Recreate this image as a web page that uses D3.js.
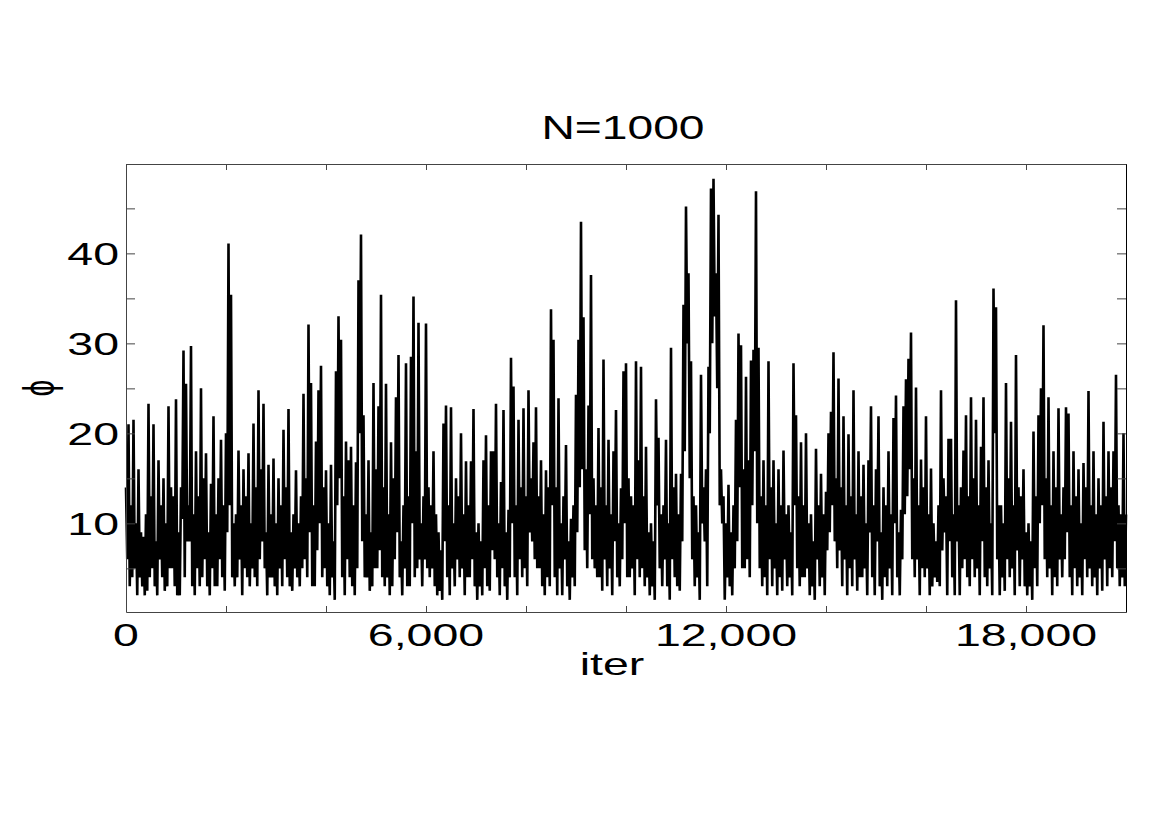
<!DOCTYPE html>
<html>
<head>
<meta charset="utf-8">
<script src="https://cdn.jsdelivr.net/npm/d3@7"></script>
<style>
  html, body { margin: 0; padding: 0; background: #fff; }
  svg { display: block; }
  text { font-family: "Liberation Sans", Arial, Helvetica, sans-serif; fill: #000; }
</style>
</head>
<body>
<script>
// ---- data ----
const titleText = "N=1000";
const xLabelText = "iter";
const yLabelText = "\u03D5";
const iterStep = 25;           // spacing of the sampled iterations
const xMax = 20000;
const xTickValues = [0,2000,4000,6000,8000,10000,12000,14000,16000,18000,20000];
const xTickLabels = [0, 6000, 12000, 18000];
const yTickValues = [5,10,15,20,25,30,35,40,45];
const yTickLabels = [10, 20, 30, 40];
const yDomain = [0.15, 49.93];

const phi = [
  14,6, 21,3, 12,4, 21.5,5, 10,2, 16,4, 9,3, 8.5,2, 11,2.5, 23.3,4,
  13,5, 21,3, 8,2, 17,6, 12,4, 15,2.5, 10,3, 23,5, 14,5, 13,3,
  23.8,2, 9,2, 14,10.5, 29.2,4, 25.5,8, 12,8, 29.7,3, 11,2, 18,5, 13,3,
  25,4, 15,6, 17.8,3, 9,2, 14.4,5, 21.9,3, 11,3, 15,6, 19.3,4, 12,2.5,
  20,9, 41.1,12, 35.4,4, 10,3, 11,4, 18.1,6, 12,2, 16,5, 13,4, 17.8,3,
  10,5, 21.1,4, 14,3, 24.8,6, 16,8, 23.3,5, 9,2, 16.5,4, 11,4, 17.2,3,
  10,2, 15,5, 12,3, 20.4,6, 14,4, 22.7,3, 9,2.5, 11,5, 15.9,4, 10,3,
  13,5, 24.4,6, 15,4, 32.1,9, 25.6,3, 12,3, 19.1,7, 24.8,10, 27.5,4, 14,5,
  15.9,3, 10,2, 16.5,4, 8,1.5, 26.9,12, 33,15, 30.4,4, 13,2, 19.1,6, 17,4,
  18.5,3, 12,2, 16.8,5, 37,20, 42.1,8, 22,4, 11,4, 17,2.5, 9,3, 25.6,5,
  16,5, 23,7, 35.4,4, 14,3, 25.5,4, 11,2, 19,3, 15,6, 24,9, 28.7,4,
  8,2, 12,5, 27.8,3, 13,3, 28.5,10, 35.2,4, 18,5, 32.3,6, 10,3, 13,6,
  32.2,5, 14,4, 12,5, 18,3, 11,2, 9,2.5, 7,1.5, 21.1,8, 23.1,4, 12,2,
  22.9,5, 10,3, 15,6, 13,4, 20,5, 11,2, 16.9,4, 12,4, 16.9,6, 22.7,3,
  9,1.5, 10,3, 8,2, 17,5, 19.8,3, 12,2.5, 18,7, 18,6, 23.3,4, 10,2,
  14.6,5, 22.6,3, 9,1.5, 11.5,4, 28.4,10, 25.2,4, 12,2, 21.5,6, 14,4, 22.8,5,
  13,3, 24.8,9, 15,8, 19,6, 22.9,5, 13,5, 17,3, 11,2, 15.9,4, 14,3,
  33.8,12, 30.4,4, 14,2, 23.9,5, 10,2, 13,6, 18.7,3, 8,1.5, 10.5,4, 12,3,
  24.3,9, 30.4,14, 43.5,16, 32.9,7, 16,5, 23.1,11, 37.6,6, 15,5, 12,4, 20.6,4,
  14,2.5, 28.2,6, 12,3, 19.3,5, 11,2, 18,8, 22.6,4, 10,3, 13.9,6, 26.9,10,
  27.8,4, 15,4, 13,5, 12,2, 28,6, 17,4, 27.4,5, 13,3, 18.5,4, 9,2,
  10,3, 8,1.5, 23.8,12, 19.5,5, 11,3, 12,6, 19.3,3, 10,1.5, 29.5,6, 14,4,
  15.5,3, 11,2.5, 15.5,8, 34.3,18, 45.2,30, 37.8,15, 28,6, 13,3, 12,4, 9,1.5,
  26.5,10, 14,8, 16,3, 27.4,20, 47.2,30, 48.3,33, 37.8,25, 44.3,12, 16,10, 13,1.5,
  10,4, 14.3,3, 9,2, 12,5, 21.5,8, 31.1,14, 29.8,5, 16,5, 26.3,6, 17,4,
  28.1,12, 29.3,18, 46.9,10, 29.5,5, 13,3, 17,4, 12,2, 28,6, 14,3, 17,5,
  10,2, 16,4, 12,2.5, 18.1,6, 11,3, 12,4, 9,2, 27.8,12, 22,5, 13,3,
  19,4, 12,4, 20,5, 10,2, 11,3, 8,1.5, 18.3,6, 12,3, 15.5,4, 11,2,
  13.5,7, 20,9, 22.4,12, 29,8, 15,5, 26.1,7, 14,3, 21.9,6, 12,2, 19.9,5,
  13,3, 24.8,6, 11,2.5, 18,4, 13,4, 16.5,5, 10,2, 17,9, 23,4, 12,2,
  16,8, 21.9,3, 9,1.5, 14,4, 12,3, 18,5, 11,2, 21.7,10, 24.2,4, 9,2,
  11.5,6, 23,11, 26,13, 28.3,16, 31.2,6, 15,4, 25.1,6, 12,2, 17.1,5, 14,4,
  21.9,5, 11,2, 16.1,3, 10,4, 8,3.5, 12,3, 24.8,7, 15,9, 13,2, 19.4,8,
  19.4,4, 11,2, 34.8,8, 12,2, 14,5, 18.1,6, 22,4, 13,3, 24,6, 15,4,
  21.5,5, 12,2, 18.5,8, 24,4, 14,3, 17,5, 10,2, 36.1,20, 34,6, 12,2,
  12,4, 10,2.5, 25.6,6, 15,4, 21.3,5, 12,2, 28.7,7, 14,3, 13,6, 16,3,
  9,2, 10,3, 8,1.5, 20.2,5, 13,3, 22,10, 25,12, 32,6, 15,4, 24,5,
  12,2, 18,4, 14,3, 22.8,6, 11,4, 14,6, 22.9,9, 22.2,4, 12,2, 18,5,
  13,3, 16,4, 10,2, 16.7,6, 14,4, 24.7,5, 12,3, 18,4, 11,2, 15,5,
  12,2.5, 21.3,6, 13,3, 18,5, 14,4, 18,8, 26.5,5, 12,3, 11,4, 20,3,
  11
];

// ---- layout ----
const W = 1170, H = 827;
const plot = { left: 126, right: 1126, top: 164, bottom: 612 };
const SX = 1.5; // horizontal stretch of the reference glyphs

const svg = d3.select("body").append("svg").attr("width", W).attr("height", H);

const x = d3.scaleLinear().domain([0, xMax]).range([plot.left, plot.right]);
const y = d3.scaleLinear().domain(yDomain).range([plot.bottom, plot.top]);

// line
const line = d3.line().x((d, i) => x(i * iterStep)).y(d => y(d));
svg.append("path")
  .datum(phi)
  .attr("d", line)
  .attr("fill", "none")
  .attr("stroke", "#000")
  .attr("stroke-width", 2.6)
  .attr("stroke-linejoin", "miter")
  .attr("stroke-miterlimit", 1.5);

// axes (ticks inward, box)
const axisColor = "#444";
function styleAxis(g) {
  g.select(".domain").attr("stroke", axisColor).attr("stroke-width", 1);
  g.selectAll(".tick line").attr("stroke", axisColor).attr("stroke-width", 1);
  g.selectAll(".tick text").remove();
}
svg.append("g").attr("transform", `translate(0,${plot.bottom})`)
  .call(d3.axisBottom(x).tickValues(xTickValues).tickSize(-6).tickSizeOuter(0).tickFormat(""))
  .call(styleAxis);
svg.append("g").attr("transform", `translate(0,${plot.top})`)
  .call(d3.axisTop(x).tickValues(xTickValues).tickSize(-6).tickSizeOuter(0).tickFormat(""))
  .call(styleAxis);
svg.append("g").attr("transform", `translate(${plot.left},0)`)
  .call(d3.axisLeft(y).tickValues(yTickValues).tickSize(-9).tickSizeOuter(0).tickFormat(""))
  .call(styleAxis);
svg.append("g").attr("transform", `translate(${plot.right},0)`)
  .call(d3.axisRight(y).tickValues(yTickValues).tickSize(-9).tickSizeOuter(0).tickFormat(""))
  .call(styleAxis);
svg.select("g:last-of-type .domain").attr("stroke", "#000");

// text helper (reference glyphs are horizontally stretched)
function stretchedText(px, py, str, anchor, size, sx) {
  return svg.append("text")
    .attr("transform", `translate(${px},${py}) scale(${sx},1)`)
    .attr("text-anchor", anchor)
    .attr("font-size", size)
    .text(str);
}

const fmt = d3.format(",");
xTickLabels.forEach(v => stretchedText(x(v), 646, fmt(v), "middle", 31, SX));
yTickLabels.forEach(v => stretchedText(plot.left - 7, y(v) + 11.5, String(v), "end", 31, SX));

stretchedText(623, 139, titleText, "middle", 33, 1.4);
stretchedText(612, 675, xLabelText, "middle", 31, SX);

svg.append("text")
  .attr("transform", `translate(38,388) scale(${SX},1) rotate(-90)`)
  .attr("text-anchor", "middle")
  .attr("dominant-baseline", "central")
  .attr("font-family", "DejaVu Sans")
  .attr("font-size", 30)
  .text(yLabelText);
</script>
</body>
</html>
